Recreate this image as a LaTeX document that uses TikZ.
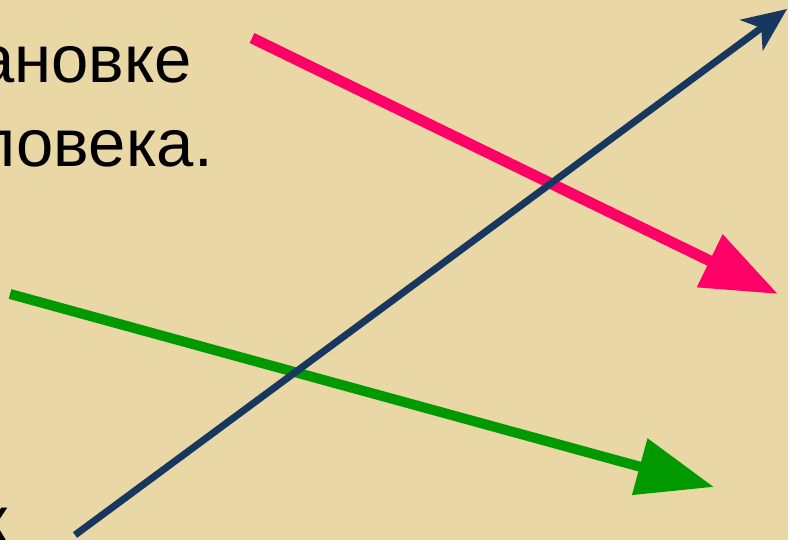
\documentclass[tikz,border=0pt]{standalone}
\usepackage{fontspec}
\setmainfont{Liberation Sans}
\usetikzlibrary{arrows.meta}
\definecolor{parch}{HTML}{EAD7A6}
\definecolor{pinkarrow}{HTML}{FF0066}
\definecolor{greenarrow}{HTML}{009A00}
\definecolor{navyarrow}{HTML}{17375E}
\begin{document}
\begin{tikzpicture}[x=1pt,y=-1pt,
  bigtext/.style={inner sep=0pt, font=\fontsize{67}{80}\selectfont, text=black},
  pinkline/.style={line width=11pt, draw=pinkarrow, -{Triangle[length=76pt,width=56pt]}},
  greenline/.style={line width=10pt, draw=greenarrow, -{Triangle[length=77pt,width=56pt]}},
  navyline/.style={line width=7pt, draw=navyarrow, -{Stealth[length=44pt,width=38pt,inset=12pt]}}]
\useasboundingbox (0,0) rectangle (788,540);
\fill[parch] (0,0) rectangle (788,540);
\begin{scope}
\clip (0,0) rectangle (788,540);
\node[bigtext, anchor=base east] (l0a) at (18,-1) {о};
\node[bigtext, anchor=base east] (l0b) at (74,-1) {о};
\node[bigtext, anchor=base east] (l1) at (192,83) {ановке};
\node[bigtext, anchor=base east] (l2) at (213,167) {ловека.};
\node[bigtext, anchor=base east] (l3) at (8,543) {к};
\end{scope}
\coordinate (ps) at (252,38);
\coordinate (pe) at (778,294);
\coordinate (gs) at (10,294);
\coordinate (ge) at (714,487);
\coordinate (ns) at (75,535);
\coordinate (ne) at (787,9);
\draw[pinkline] (ps) -- (pe);
\draw[greenline] (gs) -- (ge);
\draw[navyline] (ns) -- (ne);
\end{tikzpicture}
\end{document}
